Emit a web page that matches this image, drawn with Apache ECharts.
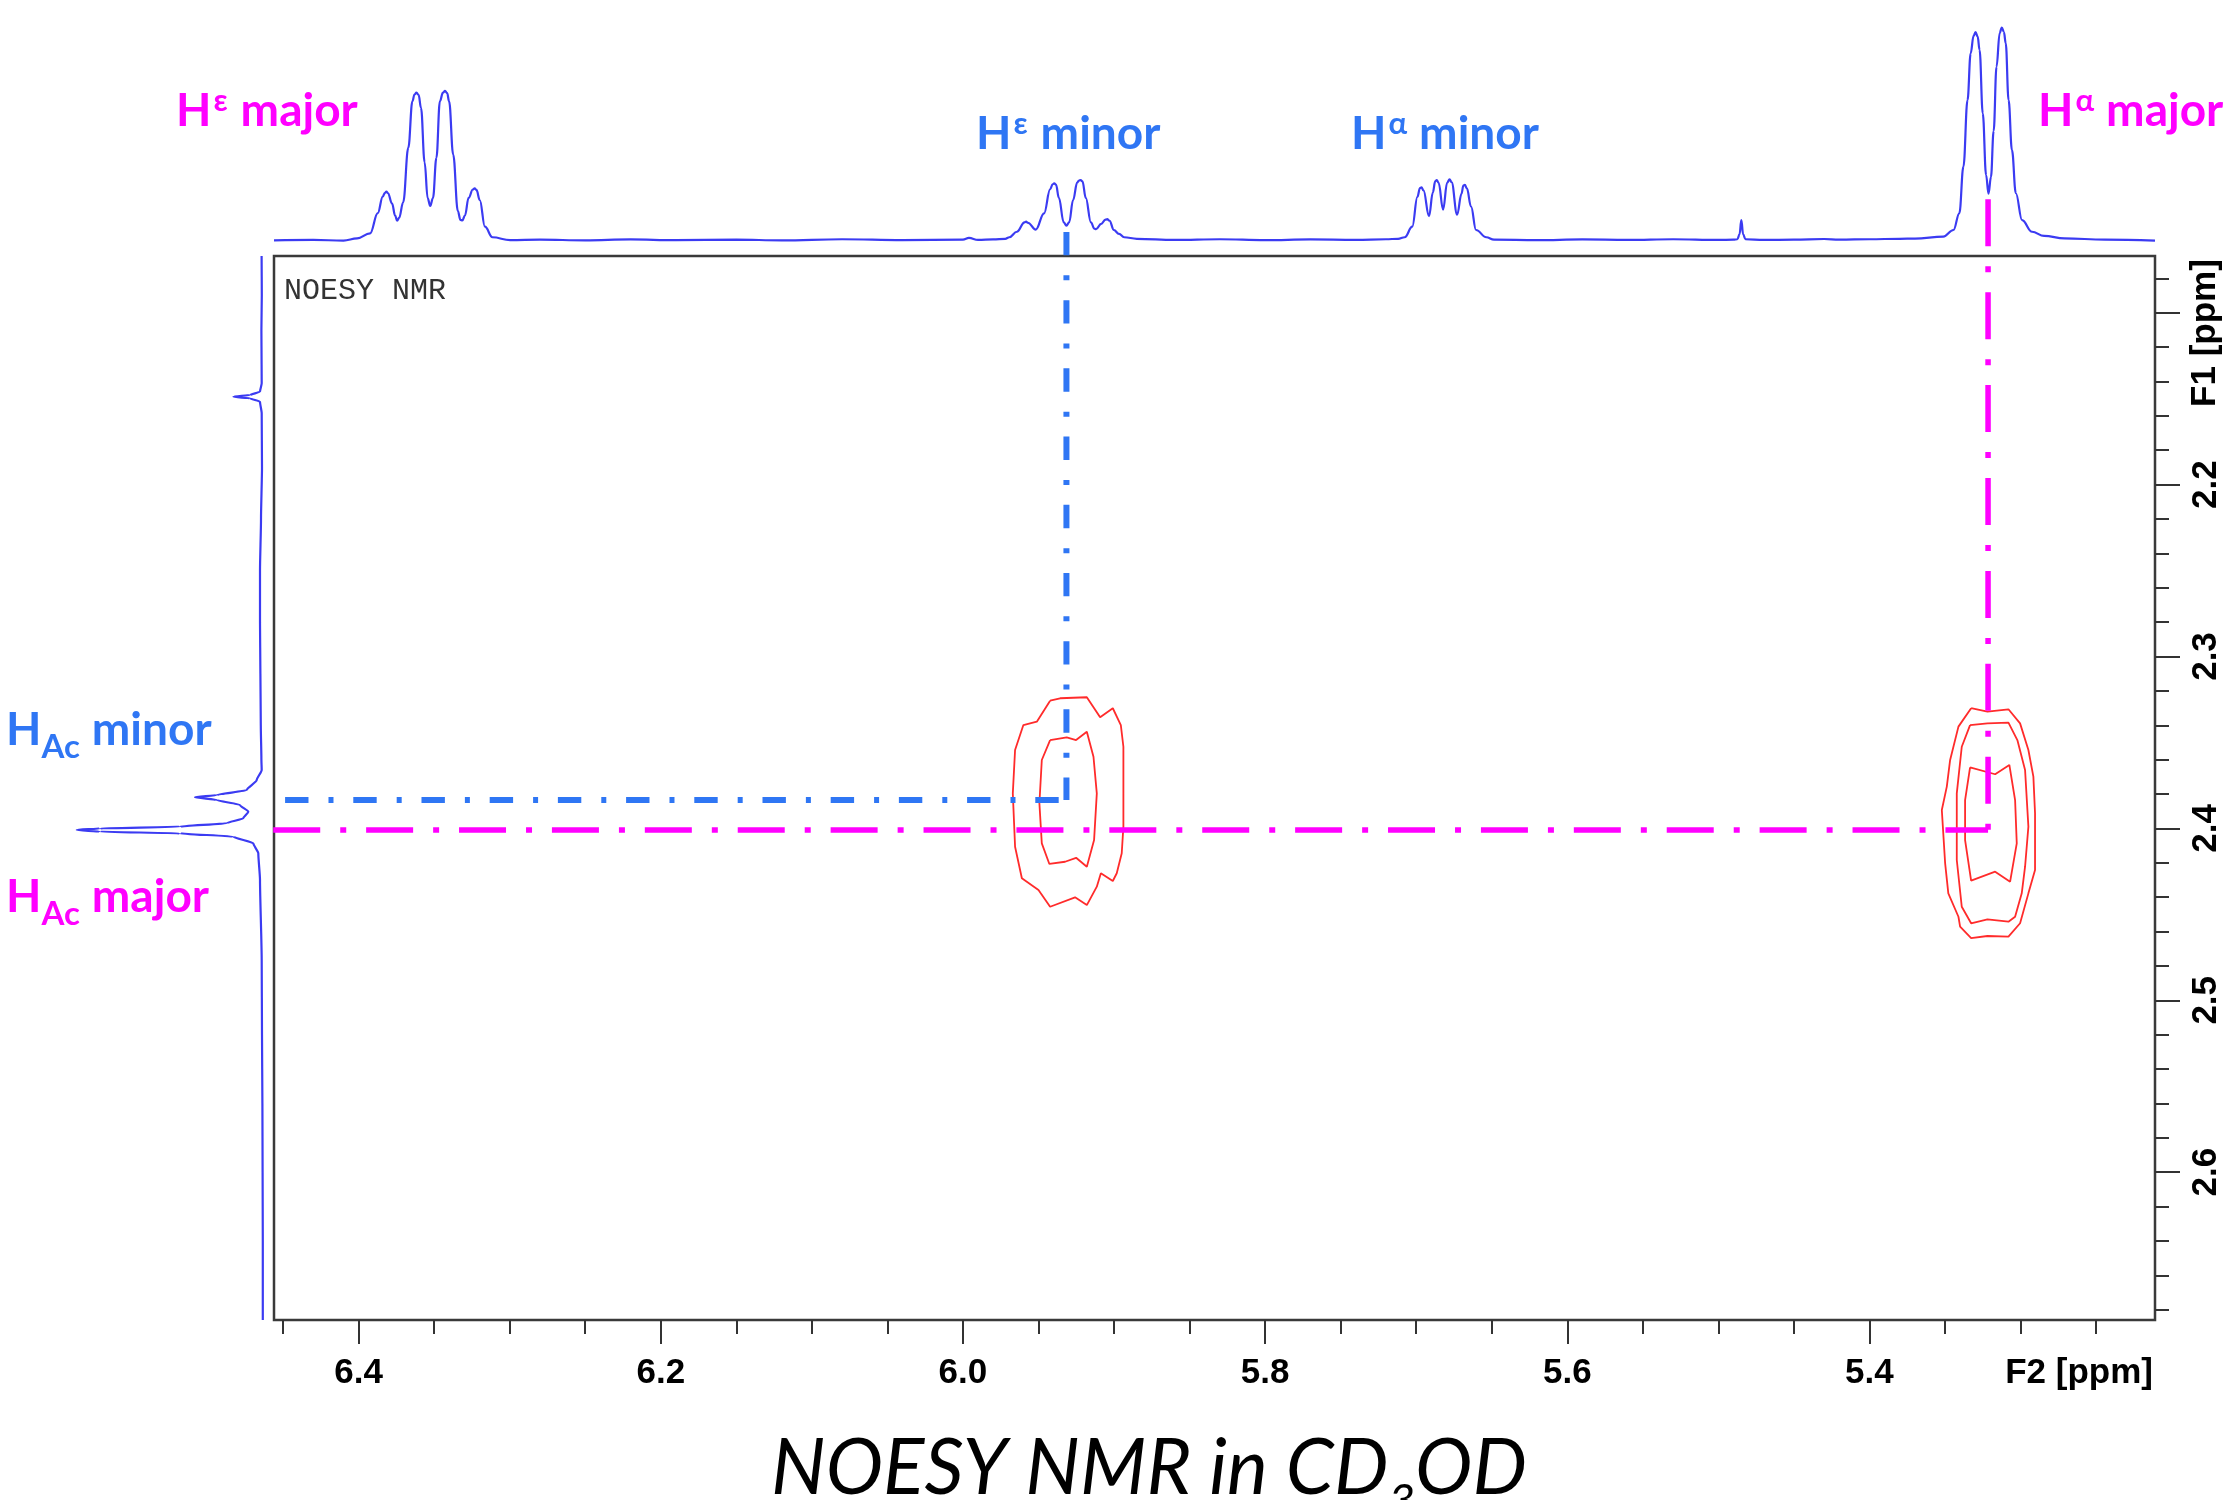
<!DOCTYPE html>
<html lang="en">
<head>
<meta charset="UTF-8" />
<title>NOESY NMR in CD3OD</title>
<style>
  html, body { margin: 0; padding: 0; background: #fff; }
  #main { width: 2233px; height: 1500px; }
</style>
</head>
<body>
<div id="main"></div>
<script src="https://cdn.jsdelivr.net/npm/echarts@6/dist/echarts.min.js"></script>
<script>
// axis ranges (ppm); both axes run "backwards" like an NMR plot
const F2_RANGE = [5.211, 6.456];
const F1_RANGE = [2.067, 2.686];

const f2MajorTicks = [6.4, 6.2, 6.0, 5.8, 5.6, 5.4];
const f2MinorTicks = [6.45, 6.35, 6.3, 6.25, 6.15, 6.1, 6.05, 5.95, 5.9, 5.85,
  5.75, 5.7, 5.65, 5.55, 5.5, 5.45, 5.35, 5.3, 5.25];
const f1MajorTicks = [2.1, 2.2, 2.3, 2.4, 2.5, 2.6];
const f1TickLabels = [2.2, 2.3, 2.4, 2.5, 2.6];
const f1MinorTicks = [2.08, 2.12, 2.14, 2.16, 2.18, 2.22, 2.24, 2.26, 2.28, 2.32,
  2.34, 2.36, 2.38, 2.42, 2.44, 2.46, 2.48, 2.52, 2.54, 2.56, 2.58, 2.62, 2.64,
  2.66, 2.68];

// 1D projection on top: [F2 ppm, intensity]
const f2Spectrum = [
  [6.456, 0.3], [6.43, 0.5], [6.41, 0.2],
  [6.401, 1.2], [6.3924, 3.5], [6.3873, 12.7], [6.384, 20.2], [6.3826, 21.9], [6.3816, 22.4],
  [6.3806, 21.8], [6.3779, 17.1], [6.3758, 11.5], [6.3745, 9.2], [6.3732, 10.5], [6.3705, 17.6],
  [6.3671, 42.4], [6.3644, 63.5], [6.363, 66.6], [6.3617, 67.4], [6.3603, 66.4], [6.3587, 60.5],
  [6.3563, 35.8], [6.3543, 19.5], [6.3526, 15.9], [6.3508, 19.5], [6.3485, 37.8], [6.3462, 63.5],
  [6.3442, 67.4], [6.3428, 68.2], [6.3414, 67.2], [6.3401, 63.5], [6.3374, 39.3], [6.3343, 13.6],
  [6.3326, 9.6], [6.3313, 9.4], [6.3296, 11.6], [6.3272, 19.6], [6.3244, 23.4], [6.3232, 23.9],
  [6.3220, 23.2], [6.3198, 18.6], [6.3164, 6.5], [6.3114, 1.7], [6.2997, 0.4],
  [6.28, 0.6], [6.25, 0.3], [6.22, 0.7], [6.19, 0.4], [6.15, 0.6], [6.12, 0.3], [6.08, 0.8],
  [6.04, 0.4], [6.0, 0.6], [5.996, 1.4], [5.99, 0.5], [5.98, 0.7], [5.972, 1.0],
  [5.9693, 1.7], [5.9643, 4.2], [5.9592, 8.5], [5.9582, 8.8], [5.9570, 8.3], [5.9518, 5.2],
  [5.9463, 12.6], [5.9423, 23.5], [5.9406, 25.8], [5.9396, 26.2], [5.9384, 25.6], [5.9365, 19.6],
  [5.9333, 8.5], [5.9315, 7], [5.9297, 8.5], [5.9271, 18.6], [5.9244, 26.5], [5.9232, 27.5],
  [5.9221, 27.7], [5.9209, 27.1], [5.9187, 19.6], [5.9153, 8.5], [5.9130, 5.6], [5.9119, 5.4],
  [5.9085, 7.8], [5.9057, 9.7], [5.9045, 9.9], [5.9030, 9.2], [5.9001, 5], [5.8967, 3.2],
  [5.8933, 1.7], [5.8849, 1.0],
  [5.86, 0.5], [5.83, 0.8], [5.80, 0.4], [5.77, 0.7], [5.74, 0.5], [5.72, 0.8], [5.712, 1.0],
  [5.7076, 1.7], [5.7026, 6.5], [5.6992, 20.1], [5.6975, 24], [5.6965, 24.4], [5.6952, 23],
  [5.6915, 11.3], [5.6890, 22], [5.6874, 27.2], [5.6864, 27.7], [5.6852, 26.5], [5.6822, 14.3],
  [5.6795, 26.5], [5.6779, 28], [5.6766, 26.8], [5.6729, 12], [5.6700, 21.5], [5.6688, 25.2],
  [5.6678, 25.5], [5.6665, 24], [5.6637, 15.6], [5.6604, 5], [5.6536, 1.7], [5.6485, 0.6],
  [5.62, 0.4], [5.59, 0.7], [5.56, 0.5], [5.53, 0.8], [5.5, 0.5], [5.49, 0.6],
  [5.4874, 0.8], [5.486, 3], [5.4848, 9.5], [5.4836, 3], [5.4821, 0.8],
  [5.47, 0.5], [5.45, 0.6], [5.43, 0.9], [5.42, 0.6], [5.40, 0.8], [5.38, 1.0], [5.3699, 1.1],
  [5.3511, 2], [5.3444, 5], [5.3405, 12.6], [5.3378, 33.8], [5.3351, 64], [5.333, 85.3],
  [5.3311, 93.2], [5.3298, 94.9], [5.3284, 93], [5.3271, 86.8], [5.325, 58], [5.3228, 30],
  [5.3212, 21.5], [5.3196, 29], [5.3178, 50], [5.3159, 79.2], [5.3138, 94.5], [5.3124, 97],
  [5.3110, 95], [5.3098, 89.9], [5.3079, 64], [5.3057, 41.4], [5.3031, 21.7], [5.299, 9.5],
  [5.2924, 4.2], [5.2844, 2.3], [5.271, 1.2], [5.2442, 0.6], [5.211, 0.2]
];

// 1D projection on the left: [intensity, F1 ppm]
const f1Spectrum = [
  [0.2, 2.067], [0.1, 2.09], [0.3, 2.11], [0.2, 2.13], [0.15, 2.1411], [1, 2.1459],
  [6, 2.1479], [14.3, 2.1489], [6, 2.1498], [1, 2.1518], [0.15, 2.1585], [0, 2.19],
  [0.5, 2.22], [1, 2.25], [1, 2.28], [0.8, 2.31], [0.6, 2.34], [0.3, 2.36], [0.15, 2.366],
  [2.65, 2.3719], [7.65, 2.3777], [22.65, 2.3806], [33.5, 2.3819], [22.65, 2.3835],
  [11, 2.3864], [6.85, 2.3903], [9.35, 2.3941], [17.65, 2.397], [41, 2.399], [81, 2.4],
  [92.65, 2.4009], [81, 2.4019], [41, 2.4029], [14.35, 2.4048], [4.35, 2.4087],
  [1.85, 2.4145], [1, 2.43], [0.15, 2.4766], [0, 2.52], [-0.2, 2.56], [-0.3, 2.6],
  [-0.4, 2.64], [-0.4, 2.686]
];

// NOESY cross peak contours: [F2 ppm, F1 ppm]
const heMinorOuter = [[5.9423, 2.3257], [5.9357, 2.3243], [5.9180, 2.3237], [5.9092, 2.3354],
  [5.9008, 2.3301], [5.8955, 2.3399], [5.8938, 2.3525], [5.8938, 2.3990], [5.8949, 2.4145],
  [5.8982, 2.4261], [5.9008, 2.4306], [5.9087, 2.4261], [5.9114, 2.4339], [5.9180, 2.4446],
  [5.9258, 2.4401], [5.9423, 2.4456], [5.9500, 2.4358], [5.9610, 2.4290], [5.9655, 2.4107],
  [5.9670, 2.3796], [5.9655, 2.3544], [5.9600, 2.3399], [5.9511, 2.3379], [5.9423, 2.3257]];
const heMinorInner = [[5.9423, 2.3486], [5.9313, 2.3470], [5.9251, 2.3486], [5.9180, 2.3438],
  [5.9136, 2.3583], [5.9114, 2.3796], [5.9132, 2.4068], [5.9180, 2.4223], [5.9251, 2.4171],
  [5.9324, 2.4194], [5.9428, 2.4207], [5.9478, 2.4087], [5.9494, 2.3854], [5.9478, 2.3602],
  [5.9423, 2.3486]];
const haMajorOuter = [[5.3327, 2.3301], [5.3219, 2.3321], [5.3080, 2.3307], [5.3003, 2.3389],
  [5.2948, 2.3544], [5.2915, 2.3699], [5.2904, 2.3912], [5.2904, 2.4242], [5.2948, 2.4378],
  [5.3003, 2.4552], [5.3080, 2.4630], [5.3219, 2.4626], [5.3327, 2.4639], [5.3400, 2.4572],
  [5.3411, 2.4514], [5.3478, 2.4378], [5.3499, 2.4203], [5.3521, 2.3893], [5.3488, 2.3757],
  [5.3466, 2.3602], [5.3411, 2.3408], [5.3327, 2.3301]];
const haMajorMiddle = [[5.3334, 2.3399], [5.3219, 2.3389], [5.3080, 2.3385], [5.3021, 2.3486],
  [5.2970, 2.3660], [5.2948, 2.3990], [5.2970, 2.4223], [5.2992, 2.4378], [5.3036, 2.4514],
  [5.3080, 2.4543], [5.3219, 2.4529], [5.3327, 2.4552], [5.3389, 2.4456], [5.3422, 2.4184],
  [5.3422, 2.3796], [5.3389, 2.3525], [5.3334, 2.3399]];
const haMajorInner = [[5.3334, 2.3645], [5.3168, 2.3685], [5.3074, 2.3631], [5.3036, 2.3835],
  [5.3025, 2.4087], [5.3069, 2.4310], [5.3168, 2.4252], [5.3327, 2.4304], [5.3367, 2.4068],
  [5.3367, 2.3835], [5.3334, 2.3645]];

// assignment guide lines: [F2 ppm, F1 ppm] start -> end
const minorGuideV = [[5.9315, 2.053], [5.9315, 2.3835]];
const minorGuideH = [[6.4938, 2.3835], [5.9315, 2.3835]];
const majorGuideV = [[5.3215, 2.034], [5.3215, 2.401]];
const majorGuideH = [[6.518, 2.401], [5.3215, 2.401]];

const BLUE = '#2f76f4';
const MAGENTA = '#ff00ff';
const SPEC = '#3b3bf2';
const RED = '#ff2b2b';
const TICK_FONT = 'Liberation Sans, Arial, sans-serif';
const LABEL_FONT = 'Lato, "Open Sans", sans-serif';

const chart = echarts.init(document.getElementById('main'));

// measure text so that sub/superscripts can be placed right after the letters
const ctx = document.createElement('canvas').getContext('2d');
function textWidth(font, s) {
  ctx.font = font;
  return ctx.measureText(s).width;
}
function labelParts(x, y, color, parts, italic) {
  const out = [];
  let cx = x;
  parts.forEach(p => {
    const font = (italic ? 'italic ' : '') + (p.bold === false ? '' : 'bold ') + p.size + 'px ' + LABEL_FONT;
    out.push({
      type: 'text', x: cx, y: y + (p.dy || 0), silent: true, z: 20,
      style: { text: p.t, font, fill: color, align: 'left', verticalAlign: 'top' }
    });
    cx += textWidth(font, p.t) + (p.gap || 0);
  });
  return out;
}

const BIG = 46, SUP = 31, SUB = 33;
const graphics = [].concat(
  labelParts(176, 88, MAGENTA, [{ t: 'H', size: BIG, gap: 2 }, { t: 'ε', size: SUP, dy: -3, gap: 13 }, { t: 'major', size: BIG }]),
  labelParts(976, 111, BLUE, [{ t: 'H', size: BIG, gap: 2 }, { t: 'ε', size: SUP, dy: -3, gap: 13 }, { t: 'minor', size: BIG }]),
  labelParts(1351, 111, BLUE, [{ t: 'H', size: BIG, gap: 2 }, { t: 'α', size: SUP, dy: -3, gap: 12 }, { t: 'minor', size: BIG }]),
  labelParts(2038, 88, MAGENTA, [{ t: 'H', size: BIG, gap: 2 }, { t: 'α', size: SUP, dy: -3, gap: 12 }, { t: 'major', size: BIG }]),
  labelParts(6, 707, BLUE, [{ t: 'H', size: BIG }, { t: 'Ac', size: SUB, dy: 24, gap: 12 }, { t: 'minor', size: BIG }]),
  labelParts(6, 874, MAGENTA, [{ t: 'H', size: BIG }, { t: 'Ac', size: SUB, dy: 24, gap: 12 }, { t: 'major', size: BIG }])
);

// caption, centred under the plot
const CAP = 77;
const capParts = [{ t: 'NOESY NMR in CD', size: CAP, bold: false }, { t: '3', size: 46, bold: false, dy: 48 }, { t: 'OD', size: CAP, bold: false }];
let capW = 0;
capParts.forEach(p => { capW += textWidth('italic ' + p.size + 'px ' + LABEL_FONT, p.t); });
graphics.push(...labelParts(1149 - capW / 2, 1431, '#000', capParts, true));

graphics.push(
  {
    type: 'text', x: 284, y: 276, silent: true, z: 20,
    style: { text: 'NOESY NMR', font: '30px "Courier New", "Liberation Mono", monospace', fill: '#333' }
  },
  {
    type: 'text', x: 2153, y: 1356, silent: true, z: 20,
    style: { text: 'F2 [ppm]', font: 'bold 35px ' + TICK_FONT, fill: '#000', align: 'right', verticalAlign: 'top' }
  },
  {
    type: 'text', x: 2205, y: 333, rotation: Math.PI / 2, silent: true, z: 20,
    style: { text: 'F1 [ppm]', font: 'bold 35px ' + TICK_FONT, fill: '#000', align: 'center', verticalAlign: 'middle' }
  }
);

const hidden = { show: false };
const tickStyle = { color: '#333', width: 2 };

function contour(data) {
  return {
    type: 'line', xAxisIndex: 0, yAxisIndex: 0, data, symbol: 'none', silent: true, z: 3,
    lineStyle: { color: RED, width: 1.8 }
  };
}
function guide(data, color, width, dash) {
  return {
    type: 'line', xAxisIndex: 0, yAxisIndex: 0, data, symbol: 'none', silent: true, clip: false, z: 6,
    lineStyle: { color, width, type: dash, cap: 'butt' }
  };
}

chart.setOption({
  animation: false,
  backgroundColor: '#fff',
  grid: [
    { left: 274, top: 256, width: 1881, height: 1064, show: true, borderColor: '#3a3a3a', borderWidth: 2.5 },
    { left: 274, top: 21, width: 1881, height: 220 },
    { left: 62, top: 256, width: 200, height: 1064 }
  ],
  xAxis: [
    {
      gridIndex: 0, type: 'value', min: F2_RANGE[0], max: F2_RANGE[1], inverse: true, position: 'bottom',
      axisLine: hidden, splitLine: hidden,
      axisTick: { show: true, length: 24, lineStyle: tickStyle, customValues: f2MajorTicks },
      axisLabel: {
        customValues: f2MajorTicks, margin: 36, formatter: v => v.toFixed(1),
        fontFamily: TICK_FONT, fontWeight: 'bold', fontSize: 35, color: '#000'
      }
    },
    {
      gridIndex: 0, type: 'value', min: F2_RANGE[0], max: F2_RANGE[1], inverse: true, position: 'bottom',
      axisLine: hidden, splitLine: hidden, axisLabel: hidden,
      axisTick: { show: true, length: 14, lineStyle: tickStyle, customValues: f2MinorTicks }
    },
    { gridIndex: 1, type: 'value', min: F2_RANGE[0], max: F2_RANGE[1], inverse: true, show: false },
    { gridIndex: 2, type: 'value', min: 0, max: 100, inverse: true, show: false }
  ],
  yAxis: [
    {
      gridIndex: 0, type: 'value', min: F1_RANGE[0], max: F1_RANGE[1], inverse: true, position: 'right',
      axisLine: hidden, splitLine: hidden,
      axisTick: { show: true, length: 25, lineStyle: tickStyle, customValues: f1MajorTicks },
      axisLabel: {
        customValues: f1TickLabels, margin: 34, rotate: 90, formatter: v => v.toFixed(1),
        fontFamily: TICK_FONT, fontWeight: 'bold', fontSize: 35, color: '#000'
      }
    },
    {
      gridIndex: 0, type: 'value', min: F1_RANGE[0], max: F1_RANGE[1], inverse: true, position: 'right',
      axisLine: hidden, splitLine: hidden, axisLabel: hidden,
      axisTick: { show: true, length: 14, lineStyle: tickStyle, customValues: f1MinorTicks }
    },
    { gridIndex: 1, type: 'value', min: 0, max: 100, show: false },
    { gridIndex: 2, type: 'value', min: F1_RANGE[0], max: F1_RANGE[1], inverse: true, show: false }
  ],
  series: [
    {
      type: 'line', xAxisIndex: 2, yAxisIndex: 2, data: f2Spectrum, symbol: 'none', silent: true,
      smooth: 0.4, smoothMonotone: 'x', clip: false, z: 2, lineStyle: { color: SPEC, width: 2.2 }
    },
    {
      type: 'line', xAxisIndex: 3, yAxisIndex: 3, data: f1Spectrum, symbol: 'none', silent: true,
      smooth: 0.2, smoothMonotone: 'y', clip: false, z: 2, lineStyle: { color: SPEC, width: 2.2 }
    },
    contour(heMinorOuter), contour(heMinorInner),
    contour(haMajorOuter), contour(haMajorMiddle), contour(haMajorInner),
    guide(minorGuideV, BLUE, 6, [23.4, 20, 5, 19.8]),
    guide(minorGuideH, BLUE, 6, [23.4, 20, 5, 19.8]),
    guide(majorGuideV, MAGENTA, 5.5, [47, 20, 6, 19.9]),
    guide(majorGuideH, MAGENTA, 5.5, [47, 20, 6, 19.9])
  ],
  graphic: { elements: graphics }
});
</script>
</body>
</html>
